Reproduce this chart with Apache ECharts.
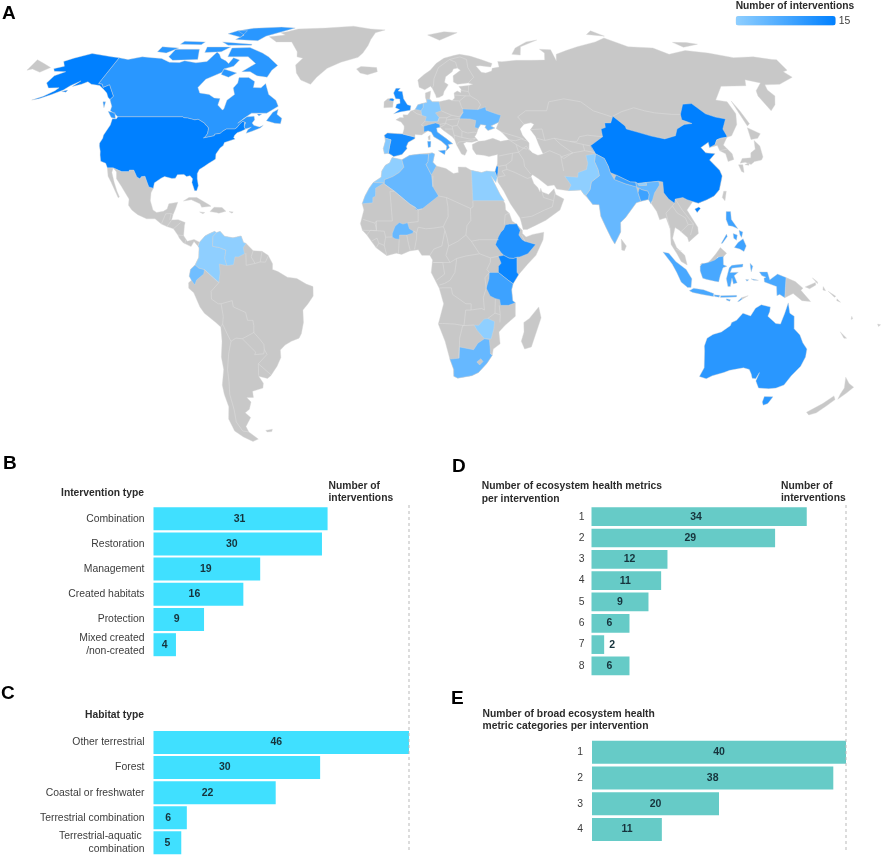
<!DOCTYPE html>
<html><head><meta charset="utf-8">
<style>html,body{margin:0;padding:0;background:#fff}#c{width:886px;height:856px}</style>
<script src="https://cdn.jsdelivr.net/npm/echarts@6/dist/echarts.min.js"></script>
</head><body><div id="c"></div>
<script>
// ---------- chart data ----------
const interventionTypes = ['Combination','Restoration','Management','Created habitats','Protection','Mixed created\n/non-created'];
const interventionCounts = [31,30,19,16,9,4];
const habitatTypes = ['Other terrestrial','Forest','Coastal or freshwater','Terrestrial combination','Terrestrial-aquatic \ncombination'];
const habitatCounts = [46,30,22,6,5];
const metricNumbers = ['1','2','3','4','5','6','7','8'];
const metricCounts = [34,29,12,11,9,6,2,6];
const categoryNumbers = ['1','2','3','4'];
const categoryCounts = [40,38,20,11];
const mapCountries = ['United States','China','Kenya','United Kingdom','Spain','Israel','Ethiopia','Canada','Australia','Tanzania','Italy','Nepal','Bangladesh','Philippines','Indonesia','Algeria','India','South Africa','Ukraine','Burkina Faso','Netherlands','Ecuador','Western Sahara','Morocco','Tunisia','Germany','Portugal','Colombia','Venezuela','Pakistan','Egypt','Zimbabwe','Bhutan'];
const mapValues =    [15,15,14,13,13,13,12,11,11,9,9,9,9,9,8,5,5,5,5,5,4,4,3,1,4,2,2,1,1,1,1,1,1];
// small nudges of value labels, as printed in the figure
const labelNudgeB = [-1,-6,-1,-4,-2,0];
const labelNudgeC = [-5,-12,-7,-2,0];
const labelNudgeD = [-3,7,0,-1,0,-1,0,-1];
const labelNudgeE = [0,0,0,0];

// ---------- basemap geography (lon, lat) ----------
const land = {
 'Greenland':[[[-73,78.2],[-68,76],[-60,76],[-55,72],[-54,70],[-51,69.5],[-53.5,67],[-52,64],[-49,61.5],[-44,60],[-42,62.5],[-38,65.7],[-32,68],[-24,69.8],[-22,71.5],[-20,74.5],[-19,77],[-17,80],[-12,81.5],[-20,82],[-30,83.5],[-45,82.5],[-60,82],[-65,80.5],[-68,80],[-65,79]]],
 'Iceland':[[[-24,65.5],[-22,64],[-18.5,63.4],[-14,64.5],[-14.5,66],[-18,66.2],[-22,66.4]]],
 'Mexico-CA':[[[-114.8,32.5],[-113,31.2],[-112.2,29],[-109.5,26.5],[-108,25],[-105.7,22.5],[-105.5,20.5],[-104,19],[-101.5,17.5],[-98,16.2],[-94.8,16.2],[-92.2,14.5],[-90,13.7],[-87.5,13],[-85.7,11],[-85,10],[-83.5,8.5],[-80.5,7.3],[-79.5,8.9],[-78,7.5],[-77.4,8.7],[-79.5,9.6],[-82,9],[-83.5,10.8],[-83.5,14],[-83.3,15],[-86,15.9],[-88.5,15.8],[-88.2,17.5],[-87.5,19.5],[-87,21.5],[-90.3,21],[-90.7,19.3],[-92,18.6],[-94.5,18.2],[-96,19],[-97.5,22],[-97.7,24.5],[-97.2,26],[-99,26.4],[-100.3,28.2],[-101.4,29.8],[-102.7,29.7],[-103.2,29],[-104.5,29.6],[-106.5,31.8],[-108.2,31.8],[-108.2,31.3],[-111,31.3]],
   [[-114.8,32.4],[-114.7,31],[-112.7,27.8],[-110.8,25],[-109.5,23.2],[-109.9,22.9],[-112.3,26],[-114,28],[-115.7,29.8],[-117.1,32.5]]],
 'Caribbean':[[[-84.9,21.9],[-83,23],[-80,23],[-75,20.7],[-74.2,20.2],[-77.7,19.9],[-78.5,21],[-82,22.3]],[[-74.4,18.5],[-73,19.9],[-70,19.8],[-68.4,18.6],[-71,18],[-72,18.2]],[[-78.3,18.4],[-76.3,18.2],[-77,17.8]],[[-67.2,18.5],[-65.6,18.4],[-66,18]]],
 'South America':[[[-77.4,8.7],[-75.5,10.7],[-74.2,11.3],[-72,12.2],[-71.3,11.5],[-70,12.2],[-68.2,10.6],[-65,10.1],[-62,10.7],[-61,8.6],[-60,8.3],[-57.3,6],[-54,5.8],[-51.7,4.5],[-50,1.8],[-50,0],[-48,-0.7],[-44.5,-2.5],[-41,-2.9],[-37.5,-4.7],[-35,-5.5],[-35,-8.5],[-37,-11],[-39,-13],[-39,-17],[-40,-20.5],[-41,-22],[-44,-23],[-46.5,-24.2],[-48.5,-25.8],[-48.6,-28.2],[-50.5,-31],[-53.5,-34],[-55,-34.9],[-58.3,-34.2],[-57,-36.4],[-57.6,-38],[-62,-39],[-62.3,-41],[-65,-41],[-63.8,-42.5],[-65.3,-44.8],[-67.5,-46],[-65.8,-47.5],[-69,-50.5],[-68.5,-52.3],[-65.3,-54.7],[-68,-55.5],[-71.5,-54],[-74.5,-52],[-75.3,-48],[-73.5,-44],[-73.7,-40],[-73.5,-37],[-71.5,-32],[-71.5,-28],[-70.4,-23],[-70.3,-18.4],[-72,-17],[-76,-14],[-77.5,-12],[-79.5,-7.5],[-81.3,-6],[-81.3,-4.3],[-80,-3.3],[-81,-2.2],[-80.5,0],[-78.8,1.5],[-77.5,3.8],[-77.5,7],[-77.9,7.3]],[[-61,-51.8],[-58,-51.4],[-58.5,-52.2],[-60.5,-52.3]]],
 'Africa':[[[-5.9,35.8],[-2,35.1],[1,36.5],[5,36.9],[10,37.3],[11,36.9],[10.2,34.3],[11.5,33.1],[15.2,32.3],[18,30.7],[20,31],[20,32.8],[23,32.7],[25,31.7],[29,31],[31,31.5],[32.3,31.2],[32.5,30],[33.5,27.8],[35.5,24],[37.2,21],[37.3,19],[38.6,18],[39.5,15.5],[41,14.5],[43.2,12.5],[43.2,11.5],[44.5,10.4],[47,11.2],[51.2,11.9],[50.8,9.5],[48,4.5],[45,1.8],[41.5,-1.7],[39.5,-4.5],[39,-6.5],[39.5,-10],[40.5,-10.7],[40.7,-15],[37,-17.9],[34.8,-20],[35.5,-23.8],[33,-25.5],[32.8,-27.5],[31,-30],[28,-33],[25.5,-34],[20,-34.8],[18.4,-34.2],[18.2,-32],[16.5,-28.6],[14.5,-23],[11.8,-17.5],[13.7,-11],[12,-6],[9,-1],[9.5,3],[8.5,4.5],[5.5,4.5],[4.2,6.3],[1,5.9],[-2,4.8],[-4,5.2],[-7.5,4.4],[-11.5,6.9],[-13.3,9],[-15,11],[-16.7,12.5],[-17.5,14.7],[-16.3,19],[-17,21],[-16,23.5],[-14.5,26],[-13,27.8],[-10,29.5],[-9.8,31.5],[-8.5,33.3],[-6.8,34.1]]],
 'Madagascar':[[[49.3,-12],[50.4,-15.5],[47.5,-24.8],[45,-25.5],[43.5,-23],[44.3,-20],[44,-17],[46,-15.7]]],
 'Eurasia':[[[-9,37],[-9.5,38.7],[-8.8,41],[-9.3,43],[-8,43.7],[-4,43.5],[-1.8,43.4],[-1.2,45],[-1.2,46],[-2.5,47.3],[-4.7,48],[-3,48.8],[-1.5,48.7],[-1.7,49.7],[0.2,49.6],[1.6,50.9],[3.5,51.4],[4.7,53],[7,53.5],[8.7,53.8],[8.1,55.5],[8.2,57],[10.6,57.7],[10.3,56.2],[10,55],[11,54],[14,54],[18.5,54.8],[19.8,54.4],[21,55.3],[21,57],[22.5,57.7],[24,57.1],[24.4,58.3],[23.5,59.2],[28,59.6],[30,60],[28,60.5],[23,60],[21.3,60.8],[21.5,63],[25.3,65],[24,65.8],[22,65.5],[21.3,64.5],[18,62.7],[17.2,60.7],[18.8,59.8],[16.6,57.5],[16,56.2],[14.3,55.5],[13,55.4],[12.7,56.3],[11.5,58.5],[10.7,59.3],[8,58.1],[5.5,59],[5,61.5],[8,63.5],[11,65],[14,67.5],[18,69.5],[23,70.5],[26,71],[31,70.3],[36,69],[41,67.5],[40,66.2],[35,66.7],[33,66.6],[35,64.3],[37,64],[40,64.7],[40.5,65.7],[44,66.2],[44,68.3],[46,68.2],[53,68.7],[60,68.7],[67,68.8],[68.5,71.5],[67,73],[72.5,72.8],[72.5,68.5],[74,71],[80,72.5],[87,74],[98,76],[104,77.7],[113,74],[125,73.5],[130,71],[140,72.5],[150,71.5],[160,69.7],[170,70],[178,69],[180,68.9],[180,65],[177.5,64.5],[179,62.5],[170,60],[163,59.8],[162,58],[163,56],[160,53],[156.5,51],[155.5,56],[156.7,57.8],[161.8,60.5],[156,61.6],[154,59.5],[142.5,59.3],[135.5,54.6],[140,54],[140.5,50],[138,46.5],[133,42.8],[130.7,42.3],[127.5,39.8],[129.4,37],[129,35.2],[126.4,34.5],[126.8,37],[125,38],[125,39.7],[121.5,39],[122,40.7],[118,39],[119,37.3],[122.5,37],[119.3,35],[121.8,31.7],[122,29.9],[119.5,25.5],[117,23.5],[114,22.3],[110.5,21.2],[108.5,21.7],[105.8,19],[109,13.5],[109,11.5],[105.2,8.8],[104.8,10.2],[102,12.5],[100.5,13.4],[99.2,10],[100.5,7],[103.4,4.5],[104.2,1.4],[102,2.5],[100.5,5],[98.5,8],[98.6,13],[97.5,16.5],[95,15.9],[94.3,18.5],[91.8,22.4],[89,21.8],[87,21.3],[82.3,16.6],[80.2,15],[80,12],[78,8.9],[77.5,8.1],[76.3,10],[74.8,13],[73,17],[72.8,20.7],[70.4,20.8],[69,22.5],[67.5,24],[66.5,25.4],[61.6,25.2],[57.3,25.7],[56.5,27],[54,26.7],[50.8,29],[48.7,30.3],[48,29.8],[48.8,27.5],[50.1,26.2],[50.8,24.8],[51.2,26],[51.6,24.8],[54,24],[56.3,25.8],[56.7,24],[59.7,22.5],[57.8,19],[55.2,17.5],[52.2,15.7],[48,14],[45,12.8],[43.5,12.8],[42.8,15.5],[42.5,16.5],[39.2,21],[37,25],[35,28],[34.9,29.5],[34.2,31.3],[34.9,32.5],[35.5,33.9],[36,36.8],[32.5,36.1],[30.5,36.5],[27.5,36.8],[26.3,38.5],[26.3,40],[29,41],[31.5,41.2],[35,42],[38,41],[41.5,41.5],[39,44],[37,45.2],[38.5,47.2],[35,46],[36.5,45.3],[33.5,44.5],[32.5,45.5],[33,46.2],[30.8,46.5],[29.6,45.2],[28.6,43.5],[27.7,42.5],[28.9,41.3],[26.3,40.7],[24,40.8],[22.8,40.3],[24,38],[23,36.5],[21.7,36.9],[20,39.8],[19.4,41.5],[18.5,42.5],[15,44.6],[13.7,45.6],[12.3,45.3],[12.5,44],[16,41.9],[18.5,40.2],[16.6,40],[17,39],[15.7,38],[16,39.5],[14,41],[11,42.5],[10,44],[8.7,44.4],[6,43.1],[3.3,43.2],[3.2,41.9],[0.5,40.7],[-0.3,39.3],[0,38.7],[-2,36.8],[-5.3,36.1],[-6.3,36.7],[-7.5,37.2]]],
 'Chukotka':[[[-180,68.9],[-175,67.5],[-170,66],[-173,64.3],[-178,65.5],[-180,65]]],
 'Ireland':[[[-10,52],[-6.2,52.2],[-6,54],[-7,55.2],[-8.5,55],[-10,54]]],
 'Arctic':[[[11,79],[20,80.5],[27,80],[17,76.7]],[[52,71],[56,70.7],[58,74],[68,76.8],[62,76],[55,73.5]],[[96,79.2],[105,78.5],[100,81]],[[138,75.8],[145,75.7],[150,75],[141,73.8]]],
 'Japan':[[[130.9,34],[132.5,35.5],[136,35.7],[137,37.3],[139.5,38.5],[141,41.3],[142,39.5],[141,36],[139.8,35],[136.8,34.5],[135,33.6],[133,34.3]],[[140,41.6],[141.5,45.4],[145.3,43.5],[143,42]],[[130,33.5],[131.7,33.5],[131,31],[130.2,31.3]],[[132.5,33.5],[134.5,34.2],[134,33.3]]],
 'Sakhalin':[[[142,54.3],[143,51],[143.5,46.7],[142,46],[142,50]]],
 'Taiwan':[[[121,25],[122,25],[120.8,22],[120,23]]],
 'Sri Lanka':[[[80,9.7],[81.8,7.5],[81,6],[80,6.2]]],
 'Corsica':[[[8.6,42.5],[9.5,43],[9.4,41.5],[8.8,41.5]]],
 'Malaysia-Borneo':[[[109,1.5],[111,1.5],[113,3],[115,5],[116.8,7],[119,5.2],[117.7,4],[115.5,4],[114.5,1.5],[112,1.3],[109.7,2]]],
 'PNG':[[[141,-2.6],[144.5,-3.9],[147.5,-6],[146.8,-6.7],[150.8,-10.3],[147.5,-10],[144,-7.7],[141,-9.1]],[[148.3,-5.6],[152,-4.2],[152.2,-5],[150,-6.2]],[[150.8,-2.7],[152.8,-4],[152.8,-4.6]],[[155,-5.5],[156,-6.8],[155,-6.6]],[[157,-7],[160,-8.6],[159.5,-8.9]],[[160.5,-9.4],[162,-10.5],[160.5,-10]]],
 'Timor-Leste':[[[125,-9],[127.3,-8.4],[125,-9.6]]],
 'Pacific':[[[164,-20],[167,-22],[166,-22]],[[177.4,-17.5],[178.6,-17.7],[178,-18.3]],[[167,-15],[167.6,-15.8],[167,-16]]],
 'New Zealand':[[[172.7,-34.5],[175.5,-36.5],[178.3,-37.7],[177,-39.5],[175.3,-41.6],[174.7,-39.8],[174.8,-38]],[[172.7,-40.5],[174.3,-41.7],[172.8,-43.7],[170.8,-46],[168.3,-46.7],[166.5,-45.8],[170.5,-43]]],
 // highlighted countries
 'Canada':[[[-141,69.65],[-136,69],[-130,70],[-125,69.7],[-120,69.4],[-115,68],[-110,67.9],[-108,68.5],[-102,67.8],[-97,68.3],[-95,71.9],[-93,71],[-91,69.5],[-88,68.5],[-86,67.5],[-85,69.7],[-81.5,68.8],[-83,66.5],[-87,65.5],[-87,64.3],[-93,61.8],[-94.6,58.9],[-92.5,57],[-88,56.5],[-85,55.3],[-82.3,55.1],[-82.2,52.9],[-79.5,51.3],[-79,51.6],[-79,54.5],[-76.7,56.5],[-78.5,58.7],[-77.5,60.5],[-78,62.4],[-73.5,62.4],[-70,61],[-69.5,58.9],[-66,58.8],[-64.6,60.3],[-61.5,56.5],[-57.5,54.5],[-55.8,52.5],[-60,50.2],[-66.5,50.2],[-69,48.5],[-71,46.9],[-68,49],[-65,49.2],[-64.3,48],[-65,47],[-64,46.2],[-61.5,45.7],[-60,46.2],[-61,45.3],[-64,44.3],[-66.2,43.6],[-66,44.8],[-64.8,45.6],[-67,45],[-67.8,45.7],[-67.8,47.1],[-68.3,47.35],[-69.2,47.45],[-70,46.7],[-70.8,45.4],[-71.5,45],[-74.9,45],[-76.3,44.2],[-76.8,43.6],[-79,43.3],[-79,42.8],[-83.1,42.1],[-82.5,42.6],[-82.1,43.6],[-82.5,45.3],[-83.6,46.1],[-84.5,46.5],[-84.9,46.9],[-88.3,48.2],[-89.6,48],[-92.9,48.6],[-94.6,48.7],[-95.2,49],[-122.8,49],[-123,49.3],[-125,50],[-127.5,51],[-128,52.5],[-130,54.3],[-130.5,54.8],[-130,55.9],[-133.5,58.4],[-135.5,59.8],[-137.5,58.9],[-139,60],[-141,60.3]],
   [[-80,73.7],[-72,71.5],[-68,70],[-62,66.8],[-64,65],[-65,62.5],[-70,63],[-74,64.5],[-78,64.5],[-73,67.5],[-78,70],[-88,70],[-89,73.5]],[[-59.3,47.7],[-55.5,46.9],[-53,46.7],[-53,48.5],[-55.5,49.8],[-55.5,51.5],[-57.5,50.5]],[[-117,73],[-105,73],[-102,69],[-114,68.7],[-117,70]],[[-125,74],[-116,73.5],[-120,71.5],[-125,72]],[[-90,77],[-78,76.5],[-75,78.5],[-65,81.5],[-62,82.5],[-70,83],[-85,82.4],[-92,81],[-87,79]],[[-96,76],[-80,75],[-80,74.6],[-92,74.6]],[[-96,79.5],[-88,78],[-87,81],[-92,81.2]],[[-116,76.3],[-105,76],[-106,74.8],[-117,75]],[[-102,73.9],[-90,73.9],[-93,72],[-101,71.7]],[[-87,65.5],[-80,64],[-83,62.5],[-87,63.5]],[[-128.3,50.8],[-125,50.3],[-123.4,48.4],[-125.5,48.8]],[[-133,54],[-131.8,54],[-131,52]],[[-62,49.9],[-64,49.9],[-63,49.3]]],
 'United States':[[[-124.7,48.4],[-123,48.3],[-122.8,49],[-95.2,49],[-94.6,48.7],[-92.9,48.6],[-89.6,48],[-88.3,48.2],[-84.9,46.9],[-84.5,46.5],[-83.6,46.1],[-82.5,45.3],[-82.1,43.6],[-82.5,42.6],[-83.1,42.1],[-79,42.8],[-79,43.3],[-76.8,43.6],[-76.3,44.2],[-74.9,45],[-71.5,45],[-70.8,45.4],[-70,46.7],[-69.2,47.45],[-68.3,47.35],[-67.8,47.1],[-67.8,45.7],[-67,44.9],[-68.5,44.3],[-70,43.8],[-70.7,43],[-70.8,42.2],[-70,41.8],[-71.4,41.4],[-73.9,40.6],[-74,39.7],[-75,38.9],[-75.5,37.9],[-76,36.9],[-75.6,35.3],[-76.6,34.7],[-78,33.9],[-79.3,33],[-81,32],[-81.4,30.7],[-81,29],[-80.1,26.8],[-80.4,25.2],[-81.2,25.2],[-81.8,26.2],[-82.8,27.8],[-82.8,29],[-84,30],[-85.3,29.7],[-86.5,30.4],[-89,30.3],[-89.5,29.2],[-90.8,29.1],[-93.8,29.7],[-95,29.2],[-97.2,27.7],[-97.2,26],[-99,26.4],[-100.3,28.2],[-101.4,29.8],[-102.7,29.7],[-103.2,29],[-104.5,29.6],[-106.5,31.8],[-108.2,31.8],[-108.2,31.3],[-111,31.3],[-114.8,32.5],[-117.1,32.5],[-118.4,34],[-120.6,34.6],[-121.9,36.6],[-122.5,37.8],[-123.8,39.5],[-124.3,40.4],[-124.1,42],[-124.5,43],[-124,46.3]],
   [[-141,69.65],[-141,60.3],[-139,60],[-137.5,58.9],[-135.5,59.8],[-133.5,58.4],[-130,55.9],[-130.5,54.8],[-132,55.5],[-134,57],[-136.5,58.2],[-139.8,59.6],[-144,60],[-146.5,60.9],[-148.5,60],[-151.8,59.2],[-150,61.2],[-153,59.5],[-154.5,58],[-158,56.5],[-162,55],[-164.7,54.6],[-161,55.9],[-158,57.8],[-157.3,58.8],[-162,58.7],[-165,60.5],[-164.5,63],[-161,64.5],[-166.5,64.6],[-168,65.6],[-164,66.5],[-166.5,68.3],[-163,69.5],[-156.6,71.3],[-152,70.8],[-145,70]],
   [[-154.7,57.5],[-152.5,58],[-152.5,57.3]]],
 'Colombia':[[[-77.4,8.7],[-75.5,10.7],[-74.2,11.3],[-72,12.2],[-71.3,11.8],[-72.5,10.5],[-72.5,7.4],[-70,7],[-67.5,6.2],[-67.8,3.5],[-67.2,1.8],[-66.9,1.2],[-69.8,1.7],[-69.5,-1],[-70,-4.2],[-70.7,-3.8],[-72.5,-2.4],[-75.3,-0.1],[-77.4,0.4],[-78.8,1.4],[-77.5,3.8],[-77.5,7],[-77.9,7.3]]],
 'Venezuela':[[[-71.3,11.8],[-70,12.2],[-68.2,10.6],[-65,10.1],[-62,10.7],[-61,8.6],[-60,8.3],[-61,7],[-60.5,5],[-62.7,4],[-64,4],[-64.5,1.5],[-66.9,1.2],[-67.2,1.8],[-67.8,3.5],[-67.5,6.2],[-70,7],[-72.5,7.4],[-72.5,10.5]]],
 'Ecuador':[[[-78.8,1.4],[-77.4,0.4],[-75.3,-0.1],[-75.6,-1.5],[-78.3,-3.4],[-79,-5],[-80.3,-3.4],[-81,-2.2],[-80.5,0]]],
 'Morocco':[[[-5.9,35.8],[-2,35.1],[-1.2,32.7],[-3,31],[-5.5,29.7],[-8.7,28.7],[-8.7,27.7],[-13,27.8],[-10,29.5],[-9.8,31.5],[-8.5,33.3],[-6.8,34.1]]],
 'Western Sahara':[[[-13,27.8],[-8.7,27.7],[-12,26],[-12,23.4],[-13,23],[-13,21.3],[-17,21],[-16,23.5],[-14.5,26]]],
 'Algeria':[[[-2,35.1],[1,36.5],[5,36.9],[8.6,36.9],[8.3,34.5],[7.5,33.5],[9.5,30.2],[9.9,26.5],[12,23.5],[5.8,19.4],[3.2,19],[3.2,19.8],[1.2,20.8],[-4.8,25],[-8.7,27.3],[-8.7,28.7],[-5.5,29.7],[-3,31],[-1.2,32.7]]],
 'Tunisia':[[[8.6,36.9],[10,37.3],[11,36.9],[10.2,34.3],[11.5,33.1],[9.5,30.2],[7.5,33.5],[8.3,34.5]]],
 'Burkina Faso':[[[-5.5,10.4],[-4.5,9.8],[-2.9,9.6],[-2.8,11],[0,11],[2.2,11.6],[2.4,12.3],[0.9,13],[0.2,14.9],[-1.5,14.5],[-2.9,15],[-4.5,13.8],[-5.5,11.5]]],
 'Egypt':[[[25,31.7],[29,31],[31,31.5],[34.2,31.3],[34.9,29.5],[34.2,27.8],[32.6,29.8],[33.5,27.8],[35.5,24],[37,22],[25,22],[25,29.5]]],
 'Israel':[[[34.3,31.3],[35,33],[35.7,33],[35.3,31],[34.9,29.5]]],
 'Ethiopia':[[[36.1,12.7],[37,14.3],[38.5,14.5],[40,14.5],[41.2,14.6],[42.4,12.5],[41.8,11],[43,9.5],[44,9],[48,8],[45,5],[42,4],[41,3.9],[39.6,3.5],[38,3.6],[36,4.5],[35,5.4],[33,7.9],[34.2,10.5],[35.2,12]]],
 'Kenya':[[[34,4.2],[36,4.5],[38,3.6],[39.6,3.5],[41,3.9],[41,-1],[41.5,-1.7],[39.5,-4.6],[37.7,-3.5],[34,-1],[34,1],[35,2]]],
 'Tanzania':[[[34,-1],[37.7,-3.5],[39.5,-4.6],[39,-6.5],[39.5,-10],[40.5,-10.7],[38,-11.5],[35,-11.5],[34.6,-9.7],[32.9,-9.3],[31,-8.5],[29.5,-6],[30.5,-3],[30.6,-1]]],
 'Zimbabwe':[[[25.3,-17.8],[27,-17.9],[29,-15.9],[30.4,-15.7],[33,-16.7],[32.8,-19],[32,-22.3],[29.4,-22.2],[26.5,-19.5]]],
 'South Africa':[[[18.4,-34.2],[20,-34.8],[25.5,-34],[28,-33],[31,-30],[32.8,-27.5],[32,-26.8],[31.9,-25.8],[31.3,-22.4],[29.4,-22.2],[27,-23.6],[25.5,-25.7],[23,-25.3],[20,-24.8],[20,-28.4],[17,-28.7],[16.5,-28.6],[18.2,-32]]],
 'Lesotho':[[[27,-29.6],[28.5,-28.6],[29.4,-29.5],[28.2,-30.6]]],
 'United Kingdom':[[[-5.7,50],[-3,50.6],[1.4,51.2],[1.7,52.7],[0.2,53],[-1.5,55],[-2.1,57.5],[-4,57.7],[-3,58.6],[-5,58.6],[-6,57],[-5,55],[-3.2,54.9],[-3,53.5],[-4.5,53.2],[-5,52],[-3.2,51.4]],[[-8,54.5],[-6,54.2],[-5.6,54.8],[-6.5,55.2],[-7.4,55]]],
 'Spain':[[[-9.3,43],[-8,43.7],[-4,43.5],[-1.8,43.4],[3.2,42.4],[3.2,41.9],[0.5,40.7],[-0.3,39.3],[0,38.7],[-2,36.8],[-5.3,36.1],[-6.3,36.7],[-7.4,37.2],[-7,39.5],[-6.5,41.5],[-8.2,41.9],[-8.8,42]]],
 'Portugal':[[[-8.8,41.9],[-8.2,41.9],[-6.5,41.5],[-7,39.5],[-7.4,37.2],[-9,37],[-9.5,38.7],[-8.8,41]]],
 'Germany':[[[7,53.5],[8.7,53.8],[8.7,54.9],[10,54.8],[11,54],[14,54],[14.7,51],[12.2,50.3],[13.7,48.7],[13,47.5],[10,47.4],[7.6,47.6],[8.2,49],[6.3,49.5],[6,51],[7,52.2]]],
 'Netherlands':[[[3.5,51.4],[4.7,53],[7,53.5],[7,52.2],[6,51],[5,51.3]]],
 'Italy':[[[7,44],[7,45.9],[9,46.4],[12,47],[13.7,46.5],[13.7,45.6],[12.3,45.3],[12.5,44],[16,41.9],[18.5,40.2],[16.6,40],[17,39],[15.7,38],[16,39.5],[14,41],[11,42.5],[10,44],[8.7,44.4]],[[12.5,38],[15.5,38.2],[15,36.7]],[[8.3,41],[9.7,41],[9.5,39.2],[8.5,39]]],
 'Ukraine':[[[22.2,48.4],[24,50.5],[24,51.6],[30.5,51.4],[34,52.3],[34,51.2],[38,50],[40,49.5],[38.5,47.2],[35,46],[36.5,45.3],[33.5,44.5],[32.5,45.5],[33,46.2],[30.8,46.5],[29.6,45.2],[28.2,45.5],[29,47.8],[26.6,48.3]]],
 'China':[[[73.7,39.5],[80,42.5],[80.5,45],[82.5,45.5],[83,47],[85.5,47],[87.5,49.2],[91,46],[91,45],[95,44],[100,42.7],[105,41.8],[110,42.8],[112,45],[116,46.5],[119.5,46.8],[116,48],[116.7,49.8],[120,53.2],[124,53.4],[127.5,50],[130.9,48.9],[134.7,48.3],[131,45],[131,42.9],[130.7,42.3],[128,42],[126,41.5],[124.3,40],[121.5,39],[122,40.7],[118,39],[119,37.3],[122.5,37],[119.3,35],[121.8,31.7],[122,29.9],[119.5,25.5],[117,23.5],[114,22.3],[110.5,21.2],[108.5,21.7],[106.5,22.3],[105,23],[102,22.5],[101.5,21.2],[99.5,22.5],[98,24.5],[98.5,28],[97,28.2],[92,27.8],[88.8,27.5],[88,27.9],[86,28],[81,30.2],[79,31],[78.8,33],[78,35.5],[75,37]],[[108.8,19.3],[110.5,20],[111,19.5],[109.5,18.2]]],
 'India':[[[68.2,23.7],[69,22.5],[70.4,20.8],[72.8,20.7],[73,17],[74.8,13],[76.3,10],[77.5,8.1],[78,8.9],[80,12],[80.2,15],[82.3,16.6],[87,21.3],[88.8,21.8],[88.2,24.5],[88,26.3],[88,27.9],[88.8,27.5],[89,26.9],[92,26.9],[92,27.8],[97,28.2],[97,27],[94.5,24.5],[93.2,22],[92.5,21],[91.8,22.4],[92.3,24],[92,25],[89.8,25.5],[89,26],[88,26.4],[84,27.4],[80,28.8],[79,31],[78.8,33],[78,35.5],[75,37],[73.8,34.5],[74.5,32],[74.5,30],[71,28],[70,25.5]]],
 'Pakistan':[[[61.6,25.2],[66.5,25.4],[67.5,24],[68.2,23.7],[70,25.5],[71,28],[74.5,30],[74.5,32],[73.8,34.5],[75,37],[71,36.5],[71,34],[70,32],[66.5,31],[66,29.5],[61,29.8],[63,27]]],
 'Bangladesh':[[[88.8,21.8],[91.8,22.4],[92.3,24],[92,25],[89.8,25.5],[89,26],[88.2,24.5]]],
 'Nepal':[[[80,28.8],[81,30.2],[86,28],[88,27.9],[88,26.4],[84,27.4]]],
 'Bhutan':[[[89,26.9],[88.8,27.5],[92,27.8],[92,26.9]]],
 'Philippines':[[[120.5,18.5],[122.2,18.5],[122,16],[124,13],[122,13.8],[120.6,14],[120,16]],[[122,7],[123.5,8.6],[125.5,9.8],[126.5,7.5],[125.5,5.7],[124,6.5]],[[122,11.5],[123.5,11],[123,9.3],[122,10]],[[124.3,12.5],[125.7,12],[125,10.2],[124.5,11]],[[117.2,8.3],[119.5,11.3],[119.7,10.5],[117.7,8.4]]],
 'Indonesia':[[[95.3,5.6],[97.5,5.2],[100,2.5],[103.8,0],[106,-3],[105.8,-5.8],[104.5,-5.8],[102,-4],[100.3,-1],[98.6,1.7]],[[105.2,-6.8],[106.8,-6],[110.5,-6.5],[114.4,-7.7],[114.4,-8.7],[110,-8],[106.5,-7.4]],[[114.5,-8.1],[116.7,-8.3],[116.5,-8.9],[114.8,-8.7]],[[117,-8.4],[123,-8.3],[123,-8.8],[117,-9]],[[123.5,-10.3],[125,-9],[125,-9.6],[124,-10.3]],[[119.3,-9.4],[120.8,-9.7],[120.5,-10.2],[119.2,-9.8]],[[109,1],[109.7,1.8],[112,2.2],[114.5,3],[116,4],[117.7,4.2],[117.7,1.5],[119,1],[117.5,0.5],[116.5,-2],[116,-4],[114.5,-3.8],[111.5,-3.2],[110,-2.8],[109,-0.5]],[[119.5,-5.5],[118.8,-3],[119.8,0.5],[120.8,1.3],[125,1.7],[124.8,0.8],[120.8,0.4],[120.2,-1],[123.2,-0.9],[121.7,-2],[122.9,-4.3],[121.5,-4.7],[120.9,-2.8],[120.4,-5.5]],[[127.6,2],[128.6,1],[128,-0.8],[127.7,0.5]],[[128,-3],[130.8,-3.5],[129,-3.5]],[[126,-3.2],[127.2,-3.3],[126.5,-3.8]],[[131,-0.8],[134,-0.8],[135,-3.3],[137.8,-1.5],[141,-2.6],[141,-9.1],[139,-8],[138,-8.4],[137.6,-5.5],[133,-4],[132.8,-2.8],[133.5,-2.5],[132,-2]]],
 'Australia':[[[114,-22],[116,-20.8],[119,-20],[122,-18],[122.3,-17],[124,-16.3],[126,-14],[129,-14.9],[130.5,-12.4],[132.5,-11.3],[136,-12],[136,-13.5],[135.5,-15],[139,-17.3],[140.8,-17.5],[141.7,-14],[142.5,-10.7],[143.6,-14],[145.4,-15],[146.3,-19],[149,-21],[150.8,-23.5],[153,-25.5],[153.5,-28],[153,-31],[151,-34],[150,-37],[147.5,-38],[144.7,-38.2],[140.5,-38],[138,-35.7],[138,-33],[137.5,-35],[136,-34.8],[135,-33.5],[133.5,-32],[131,-31.5],[126,-32.3],[124,-33],[120,-34],[118,-35],[115,-34.3],[115.7,-31.5],[114,-26],[113.5,-24.5]],[[144.7,-40.7],[148.3,-40.8],[148,-43],[146.5,-43.5],[145.3,-42.5]]],
 'Caspian':[[[47,45],[49,46.5],[52,47],[53,46.5],[51,44.8],[50.5,44.5],[52.5,42.5],[53,40],[54,37],[52,36.6],[50,37.4],[49,38.5],[49.5,40.5],[47.5,43]]]
};
const borderLines = [
 [[-70,-4.2],[-73,-7],[-73,-9.5],[-70.6,-11],[-69.5,-11]],[[-69.5,-11],[-69,-15],[-69.5,-17.5],[-70.3,-18.4]],[[-69.5,-11],[-65.3,-10],[-65,-12],[-60.5,-13.8],[-60,-16.3],[-58,-16.3],[-57.8,-18]],[[-57.8,-20],[-58,-20.2],[-62.6,-22.2]],[[-69.5,-17.5],[-68,-21],[-67,-23]],[[-67,-23],[-65,-22],[-62.6,-22.2]],[[-67,-23],[-68.5,-27],[-70,-32],[-70.5,-36],[-71.5,-40],[-71.7,-45],[-72.5,-49],[-71,-52],[-68.5,-52.3]],[[-62.6,-22.2],[-58,-26.5],[-58.6,-27.3],[-55,-27],[-54.6,-25.6]],[[-57.8,-18],[-58,-20.2],[-56,-22.3],[-54.6,-24],[-54.6,-25.6]],[[-54.6,-25.6],[-53.8,-27.2],[-57.6,-30.2]],[[-57.6,-30.2],[-58.3,-34]],[[-57.6,-30.2],[-53.4,-33.7]],[[-60,5.2],[-59.8,1.3],[-56.5,1.9],[-54.6,2.4],[-52.7,2.3],[-51.7,4.2]],[[-57.3,6],[-58,4],[-56.5,1.9]],[[-54,5.8],[-54.6,2.4]],[[-70,-4.2],[-75.3,-0.1]],
 [[-92.2,14.5],[-91,17.8],[-89,17.9],[-88.2,17.5]],[[-89,17.9],[-89.2,15.9]],[[-90,13.7],[-88.5,15.8]],[[-87.5,13],[-85,15]],[[-85.7,11],[-83.5,10.8]],[[-82.9,8.1],[-82.6,9.5]],
 [[-8.7,27.3],[-4.8,25],[-6.5,25],[-5.5,15.5],[-11.5,15.5],[-12,14.8],[-16.5,16]],[[-4.8,25],[1.2,20.8],[3.2,19.8],[4.2,19],[4.2,15.3],[0.2,14.9]],[[-11.5,15.5],[-11.4,12.4],[-8.5,12.2],[-8,10.3],[-5.5,10.4]],[[-12,14.8],[-11.4,12.4],[-16.7,12.5]],[[-11.4,12.4],[-13.7,12.5],[-15,11]],[[-13.3,9],[-11.2,10],[-10.5,8.4]],[[-11.5,6.9],[-10.5,8.4],[-8.5,7.7],[-8,10.3]],[[-8.5,7.7],[-7.5,4.4]],[[-2.9,9.6],[-3.2,5.1]],[[-0.1,11],[0.6,8],[1.2,6.1]],[[2.8,6.4],[3.6,10],[3.6,11.7]],[[2.4,12.3],[3.6,11.7],[4.2,13.5],[7,13],[10,13.2],[13.6,13.7]],[[5.8,19.4],[4.2,19]],[[12,23.5],[15,23],[15.5,20],[15.5,16.9],[13.6,13.7]],[[9.9,26.5],[10,30]],[[15,23],[24,19.5],[25,20],[25,22]],[[24,19.5],[24,15.7],[22.5,14],[22,11],[19,9],[15.5,7.5],[15,10],[14.2,12.5],[13.6,13.7]],[[36.5,14.3],[37,17.5],[38.6,18]],[[24,9],[22,11]],[[24,9],[27,5],[31,3.7],[34,4.2]],[[24,9],[27,9.5],[34.2,9.5]],[[15.5,7.5],[14.5,4.5],[16,2.2],[18.5,3.5],[22,4.3],[27,5]],[[8.5,4.5],[10,6.5],[13,7.5],[14.2,12.5]],[[9.8,2.2],[16,2.2]],[[12,-6],[13,-5.9],[16.5,-5.9],[17,-8],[22,-11],[24,-11],[24,-13],[28,-12.5],[29,-13],[28.5,-9],[29.5,-6]],[[12,-5],[14,-4.5],[16,-3.5],[17.8,-1],[18.5,3.5]],[[29.5,-6],[29,-2.7],[30.6,-1],[29.7,0],[31,2.3],[31,3.7]],[[9.8,2.2],[13.3,2.2],[14,-1.5],[11,-3.5]],[[11.8,-17.3],[13.5,-17.3],[18,-17.5],[21.5,-18],[22,-13],[24,-13]],[[33,-14],[33,-9.5]],[[33,-14],[35,-14.5],[35,-17]],[[34.5,-11.5],[35,-14.5]],[[30.4,-15.7],[33,-14]],[[21,-18],[25.3,-17.8]],[[21,-18],[20,-22],[20,-24.8]],[[41,-1],[41,3.9]],[[42.9,11],[44,9]],[[32,-26.8],[32.8,-27.5]],[[20,-28.4],[20,-24.8]],
 [[2.5,51],[4.2,50],[6.3,49.5]],[[7.6,47.6],[6,46.3],[7,45.9]],[[-1.8,43.4],[3.2,42.4]],[[13,47.5],[13.7,48.7],[16.9,48.7],[16.2,46.9],[13.7,46.5]],[[14.7,51],[19,49.5],[22.2,49],[24,50.5]],[[24,51.6],[23.5,52.5],[23,54.3],[19.8,54.4]],[[16.9,48.7],[19,49.5]],[[16.2,46.9],[18.8,45.9],[21,46.2],[22.2,48.4],[17,48]],[[21,46.2],[22.7,44.3],[25,43.7],[27.8,44],[28.6,43.8]],[[22.7,44.3],[22.4,42.3],[26,41.7],[28,42]],[[20,39.8],[21,40.8],[26.3,41.3]],[[13.7,45.5],[16,46.5],[16.2,46.9]],[[18.8,45.9],[19.3,43],[19.4,41.8]],[[19.3,43],[22.4,42.3]],[[15.7,45],[19,45]],[[23,54.3],[26,56],[28,56],[31,54.5],[32,53],[30.5,51.4]],[[21,56.3],[26,56]],[[24,57.9],[27.5,57.5],[28,59.6]],[[28,56],[27.5,57.5]],[[28,60.5],[31,62.5],[29,66],[29,69],[26,70]],[[24,65.8],[23.5,68],[20.7,69],[26,70]],[[20.7,69],[15,66],[12.5,62],[12,59.5],[11.5,58.9]],[[26.3,41],[28,42]],[[41.5,41.5],[44,40],[44.5,37.5],[42,37.2],[36.5,36.3]],[[42,37.2],[41.3,34.8],[38.8,33.4],[36,33],[35.5,33.3]],[[44.5,37.5],[46,35],[46,33],[48,30.5]],[[38.8,33.4],[39,32],[42,31],[46.5,29.1],[48,29.5]],[[39,32],[37,31.5],[38,30],[35,29.5]],[[43,16.5],[47,17],[52,19],[55,20],[55.7,22],[52,23],[51.6,24.6]],[[55.7,22],[56.5,24.5]],[[39,44],[43,43],[47.5,41.8]],[[41.5,41.5],[44,41.2],[46.5,41.8],[49,41]],[[44,40],[46,39],[48,38.5]],[[44.5,37.5],[48,39.5],[49,38]],[[54,37],[57,38],[61,36.5],[61,31.5]],[[53,42],[56,41.3],[60,42],[62,40],[66,37.3],[62,35.5],[61,36]],[[51,44.8],[56,45],[56,41.3]],[[60,42],[66,41],[69,41],[70.5,42.5],[74,43],[80,42.5]],[[49,46.5],[47,49],[51,51],[60,51],[62,54],[69,55],[76,54],[80,51],[87,49]],[[61,36],[66,37.3],[71,38],[74.9,37.4]],[[66,41],[71,40],[74,39.5],[74.9,37.4]],[[71,40],[71,38]],[[87.5,49.2],[92,50.7],[98,52],[102,51],[106,50.3],[113,49.8],[116.7,49.8]],[[125,38],[128.3,38.5]],[[124.3,40],[126,41.5],[128,42],[130.7,42.3]],
 [[101.5,21.2],[100.5,20.3],[97.7,18],[98.6,13]],[[100.5,20.3],[102,18],[104.8,16.5],[105.5,14.3]],[[102,22.5],[104,19],[107.5,14.5],[106,11]],[[102.5,12],[105.5,14.3],[107.5,14.5]],[[100.2,6.5],[101.8,5.8],[102.2,6.2]],[[92.5,21],[93.2,22]]
];

// ---------- projection fitted to the reference (pseudo-cylindrical, Robinson-like) ----------
const PLEN=[1,.9986,.9954,.99,.9822,.973,.96,.9427,.9216,.8962,.87,.845,.815,.785,.757,.72,.69,.65,.6];
const PDFE=[0,.062,.124,.186,.248,.31,.372,.434,.4958,.5571,.6176,.6769,.7346,.7903,.8435,.8936,.9394,.9761,1];
function tab(t,a){const p=Math.min(Math.abs(a)/5,17.999),i=Math.floor(p);return t[i]+(t[i+1]-t[i])*(p-i);}
const MX=407,MY=269.4,KX=2.69,KY=252;
const project=c=>[MX+KX*c[0]*tab(PLEN,c[1]),MY-(c[1]<0?-1:1)*KY*tab(PDFE,c[1])];
const unproject=p=>{const s=(MY-p[1])/KY;let lat=0;for(let i=0;i<18;i++){const a=Math.abs(s);if(a>=PDFE[i]&&a<=PDFE[i+1]){lat=(i+(a-PDFE[i])/(PDFE[i+1]-PDFE[i]))*5*(s<0?-1:1);break;}}return [(p[0]-MX)/KX/tab(PLEN,lat),lat];};

const features=Object.keys(land).map(n=>({type:'Feature',properties:{name:n},geometry:{type:'MultiPolygon',coordinates:land[n].map(r=>[r])}}));
echarts.registerMap('world',{type:'FeatureCollection',features});
let x0=1e9,x1=-1e9,y0=1e9,y1=-1e9;
Object.values(land).forEach(rs=>rs.forEach(r=>r.forEach(c=>{const p=project(c);x0=Math.min(x0,p[0]);x1=Math.max(x1,p[0]);y0=Math.min(y0,p[1]);y1=Math.max(y1,p[1]);})));

// ---------- bar panels ----------
const F='"Liberation Sans",Arial,sans-serif';
const grids=[],xAxes=[],yAxes=[],barSeries=[];
function panel(cats,vals,nudge,color,box,max,barW,margin){
  const i=grids.length;
  grids.push({left:box[0],top:box[1],width:box[2],height:box[3],containLabel:false});
  xAxes.push({gridIndex:i,type:'value',min:0,max:max,show:false});
  yAxes.push({gridIndex:i,type:'category',inverse:true,data:cats,axisLine:{show:false},axisTick:{show:false},
    axisLabel:{color:'#3c3c3c',fontFamily:F,fontSize:10.4,margin:margin,lineHeight:12.5,align:'right'}});
  barSeries.push({type:'bar',xAxisIndex:i,yAxisIndex:i,barWidth:barW,silent:true,itemStyle:{color:color},
    data:vals.map((v,k)=>({value:v,label:{position:v<3?'right':'inside',distance:v<3?5:0,offset:[nudge[k],0]}})),
    label:{show:true,color:'#16333c',fontFamily:F,fontSize:10.5,fontWeight:'bold'}});
}
panel(interventionTypes,interventionCounts,labelNudgeB,'#40e0ff',[153.5,506.1,255.5,151.2],45.5,23,9);
panel(habitatTypes,habitatCounts,labelNudgeC,'#40e0ff',[153.5,730,255.5,125.3],46,23,9);
panel(metricNumbers,metricCounts,labelNudgeD,'#66cbc7',[591.5,506,254.5,170.6],40.2,18.7,7);
panel(categoryNumbers,categoryCounts,labelNudgeE,'#66cbc7',[592,739.3,254,103.2],40,23,9);

function txt(s,x,y,size,bold,align,color){return {text:s,left:align==='right'?undefined:x,right:align==='right'?886-x:undefined,top:y,padding:0,
  textStyle:{fontFamily:F,fontSize:size,fontWeight:bold?'bold':'normal',color:color||'#2b2b2b',lineHeight:12.6,align:align||'left'}};}
function letter(s,x,y){return {text:s,left:x,top:y,padding:0,textStyle:{fontFamily:F,fontSize:19,fontWeight:'bold',color:'#000',lineHeight:18}};}

const chart=echarts.init(document.getElementById('c'),null,{renderer:'canvas'});
chart.setOption({
  animation:false,backgroundColor:'#fff',
  title:[letter('A',2,5),letter('B',3,455),letter('C',1,685),letter('D',452,458),letter('E',451,690),
    txt('Number of interventions',735.7,0,10.25,true),
    txt('Intervention type',144,486.5,10.3,true,'right'),
    txt('Number of\ninterventions',328.5,479.5,10.3,true),
    txt('Habitat type',144,708.5,10.3,true,'right'),
    txt('Number of ecosystem health metrics\nper intervention',481.7,480,10.3,true),
    txt('Number of\ninterventions',781,479.5,10.3,true),
    txt('Number of broad ecosystem health\nmetric categories per intervention',482.5,707.5,10.3,true)],
  geo:{map:'world',roam:false,silent:true,projection:{project,unproject},
    layoutCenter:[(x0+x1)/2,(y0+y1)/2],layoutSize:Math.max(x1-x0,y1-y0),
    itemStyle:{areaColor:'#c8c8c8',borderColor:'#d6d6d6',borderWidth:.4},
    emphasis:{disabled:true},label:{show:false},
    regions:[{name:'Caspian',itemStyle:{areaColor:'#fff',borderColor:'#fff'}}]},
  visualMap:{type:'continuous',min:1,max:15,seriesIndex:4,orient:'horizontal',left:735.7,top:15.7,itemWidth:9.5,itemHeight:100,
    text:['15',''],textGap:3,padding:0,calculable:false,showLabel:true,inRange:{color:['#8fcfff','#0080ff']},
    textStyle:{fontFamily:F,fontSize:10.4,color:'#3c3c3c'},hoverLink:false},
  grid:grids,xAxis:xAxes,yAxis:yAxes,
  series:barSeries.concat([
    {type:'map',geoIndex:0,silent:true,data:mapCountries.map((n,i)=>({name:n,value:mapValues[i]}))},
    {type:'lines',coordinateSystem:'geo',polyline:true,silent:true,z:5,lineStyle:{color:'#dcdcdc',width:.6,opacity:1},
      data:borderLines.map(c=>({coords:c}))}
  ]),
  graphic:[409,846].map(x=>({type:'line',silent:true,z:10,shape:{x1:x,y1:505,x2:x,y2:852},style:{stroke:'#b9b9b9',lineWidth:1,lineDash:[3,3]}}))
});
</script></body></html>
